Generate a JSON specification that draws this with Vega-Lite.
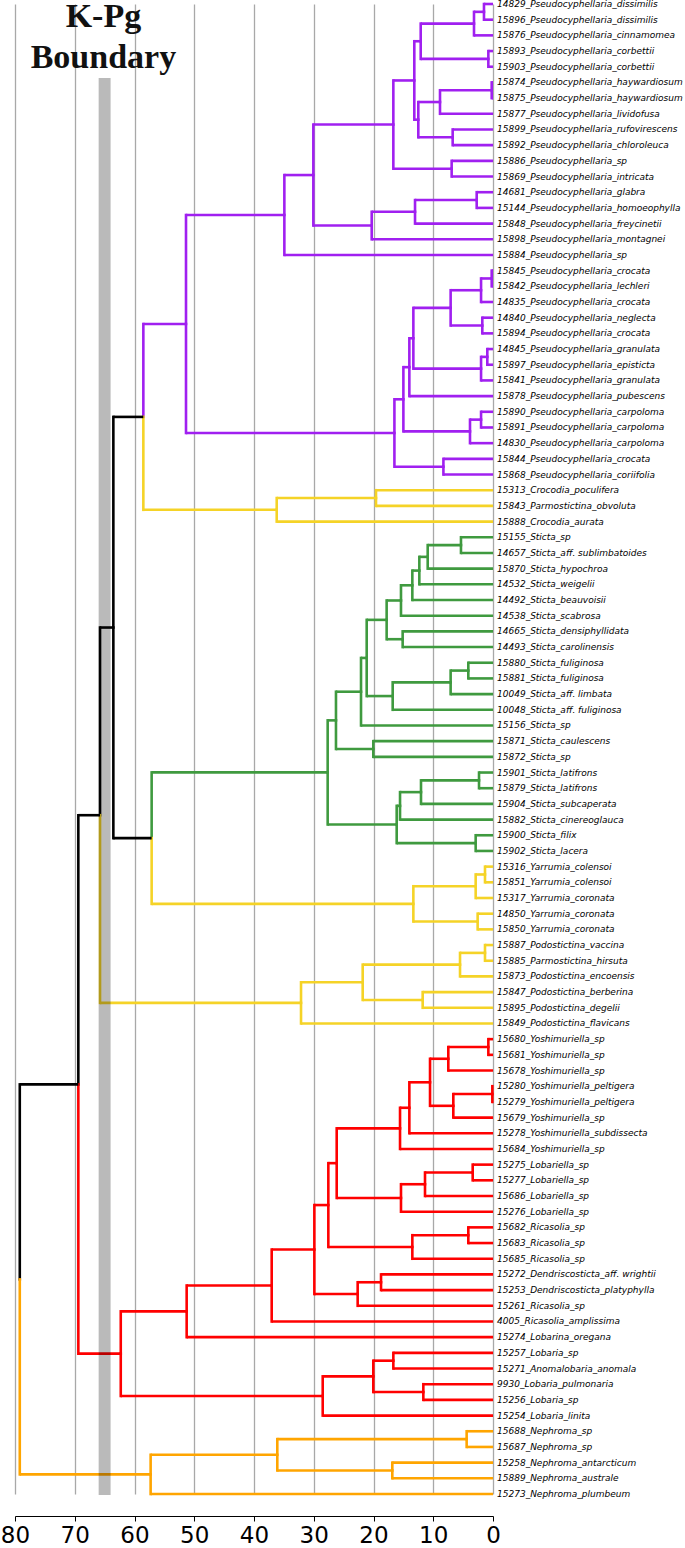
{
  "$schema": "https://vega.github.io/schema/vega-lite/v6.json",
  "width": 478,
  "height": 1490,
  "autosize": {"type": "none"},
  "padding": {"left": 15, "top": 4, "right": 192, "bottom": 54},
  "background": "white",
  "config": {"view": {"stroke": null}},
  "datasets": {
    "edges": [
      {"pa":1.51,"py":1.5,"ca":0,"cy":1,"c":"P"},{"pa":1.51,"py":1.5,"ca":0,"cy":2,"c":"P"},
      {"pa":3.18,"py":2.25,"ca":1.51,"cy":1.5,"c":"P"},{"pa":3.18,"py":2.25,"ca":0,"cy":3,"c":"P"},
      {"pa":0.78,"py":4.5,"ca":0,"cy":4,"c":"P"},{"pa":0.78,"py":4.5,"ca":0,"cy":5,"c":"P"},
      {"pa":12.1,"py":3.375,"ca":3.18,"cy":2.25,"c":"P"},{"pa":12.1,"py":3.375,"ca":0.78,"cy":4.5,"c":"P"},
      {"pa":0.22,"py":6.5,"ca":0,"cy":6,"c":"P"},{"pa":0.22,"py":6.5,"ca":0,"cy":7,"c":"P"},
      {"pa":8.87,"py":7.25,"ca":0.22,"cy":6.5,"c":"P"},{"pa":8.87,"py":7.25,"ca":0,"cy":8,"c":"P"},
      {"pa":6.75,"py":9.5,"ca":0,"cy":9,"c":"P"},{"pa":6.75,"py":9.5,"ca":0,"cy":10,"c":"P"},
      {"pa":12.5,"py":8.375,"ca":8.87,"cy":7.25,"c":"P"},{"pa":12.5,"py":8.375,"ca":6.75,"cy":9.5,"c":"P"},
      {"pa":13.17,"py":5.875,"ca":12.1,"cy":3.375,"c":"P"},{"pa":13.17,"py":5.875,"ca":12.5,"cy":8.375,"c":"P"},
      {"pa":6.92,"py":11.5,"ca":0,"cy":11,"c":"P"},{"pa":6.92,"py":11.5,"ca":0,"cy":12,"c":"P"},
      {"pa":16.68,"py":8.6875,"ca":13.17,"cy":5.875,"c":"P"},{"pa":16.68,"py":8.6875,"ca":6.92,"cy":11.5,"c":"P"},
      {"pa":2.73,"py":13.5,"ca":0,"cy":13,"c":"P"},{"pa":2.73,"py":13.5,"ca":0,"cy":14,"c":"P"},
      {"pa":13.05,"py":14.25,"ca":2.73,"cy":13.5,"c":"P"},{"pa":13.05,"py":14.25,"ca":0,"cy":15,"c":"P"},
      {"pa":20.3,"py":15.125,"ca":13.05,"cy":14.25,"c":"P"},{"pa":20.3,"py":15.125,"ca":0,"cy":16,"c":"P"},
      {"pa":30.07,"py":11.906,"ca":16.68,"cy":8.6875,"c":"P"},{"pa":30.07,"py":11.906,"ca":20.3,"cy":15.125,"c":"P"},
      {"pa":34.92,"py":14.453,"ca":30.07,"cy":11.906,"c":"P"},{"pa":34.92,"py":14.453,"ca":0,"cy":17,"c":"P"},
      {"pa":0.22,"py":18.5,"ca":0,"cy":18,"c":"P"},{"pa":0.22,"py":18.5,"ca":0,"cy":19,"c":"P"},
      {"pa":2.0,"py":19.25,"ca":0.22,"cy":18.5,"c":"P"},{"pa":2.0,"py":19.25,"ca":0,"cy":20,"c":"P"},
      {"pa":1.79,"py":21.5,"ca":0,"cy":21,"c":"P"},{"pa":1.79,"py":21.5,"ca":0,"cy":22,"c":"P"},
      {"pa":7.09,"py":20.375,"ca":2.0,"cy":19.25,"c":"P"},{"pa":7.09,"py":20.375,"ca":1.79,"cy":21.5,"c":"P"},
      {"pa":0.95,"py":23.5,"ca":0,"cy":23,"c":"P"},{"pa":0.95,"py":23.5,"ca":0,"cy":24,"c":"P"},
      {"pa":2.0,"py":24.25,"ca":0.95,"cy":23.5,"c":"P"},{"pa":2.0,"py":24.25,"ca":0,"cy":25,"c":"P"},
      {"pa":13.33,"py":22.3125,"ca":7.09,"cy":20.375,"c":"P"},{"pa":13.33,"py":22.3125,"ca":2.0,"cy":24.25,"c":"P"},
      {"pa":14.0,"py":24.156,"ca":13.33,"cy":22.3125,"c":"P"},{"pa":14.0,"py":24.156,"ca":0,"cy":26,"c":"P"},
      {"pa":2.0,"py":27.5,"ca":0,"cy":27,"c":"P"},{"pa":2.0,"py":27.5,"ca":0,"cy":28,"c":"P"},
      {"pa":3.85,"py":28.25,"ca":2.0,"cy":27.5,"c":"P"},{"pa":3.85,"py":28.25,"ca":0,"cy":29,"c":"P"},
      {"pa":15.0,"py":26.203,"ca":14.0,"cy":24.156,"c":"P"},{"pa":15.0,"py":26.203,"ca":3.85,"cy":28.25,"c":"P"},
      {"pa":8.3,"py":30.5,"ca":0,"cy":30,"c":"P"},{"pa":8.3,"py":30.5,"ca":0,"cy":31,"c":"P"},
      {"pa":16.5,"py":28.352,"ca":15.0,"cy":26.203,"c":"P"},{"pa":16.5,"py":28.352,"ca":8.3,"cy":30.5,"c":"P"},
      {"pa":51.38,"py":21.402,"ca":34.92,"cy":14.453,"c":"P"},{"pa":51.38,"py":21.402,"ca":16.5,"cy":28.352,"c":"P"},
      {"pa":19.58,"py":32.5,"ca":0,"cy":32,"c":"Y"},{"pa":19.58,"py":32.5,"ca":0,"cy":33,"c":"Y"},
      {"pa":36.2,"py":33.25,"ca":19.58,"cy":32.5,"c":"Y"},{"pa":36.2,"py":33.25,"ca":0,"cy":34,"c":"Y"},
      {"pa":58.52,"py":27.326,"ca":51.38,"cy":21.402,"c":"P"},{"pa":58.52,"py":27.326,"ca":36.2,"cy":33.25,"c":"Y"},
      {"pa":5.36,"py":35.5,"ca":0,"cy":35,"c":"G"},{"pa":5.36,"py":35.5,"ca":0,"cy":36,"c":"G"},
      {"pa":10.93,"py":36.25,"ca":5.36,"cy":35.5,"c":"G"},{"pa":10.93,"py":36.25,"ca":0,"cy":37,"c":"G"},
      {"pa":12.33,"py":37.125,"ca":10.93,"cy":36.25,"c":"G"},{"pa":12.33,"py":37.125,"ca":0,"cy":38,"c":"G"},
      {"pa":13.5,"py":38.0625,"ca":12.33,"cy":37.125,"c":"G"},{"pa":13.5,"py":38.0625,"ca":0,"cy":39,"c":"G"},
      {"pa":15.4,"py":39.031,"ca":13.5,"cy":38.0625,"c":"G"},{"pa":15.4,"py":39.031,"ca":0,"cy":40,"c":"G"},
      {"pa":15.12,"py":41.5,"ca":0,"cy":41,"c":"G"},{"pa":15.12,"py":41.5,"ca":0,"cy":42,"c":"G"},
      {"pa":17.8,"py":40.266,"ca":15.4,"cy":39.031,"c":"G"},{"pa":17.8,"py":40.266,"ca":15.12,"cy":41.5,"c":"G"},
      {"pa":4.13,"py":43.5,"ca":0,"cy":43,"c":"G"},{"pa":4.13,"py":43.5,"ca":0,"cy":44,"c":"G"},
      {"pa":7.09,"py":44.25,"ca":4.13,"cy":43.5,"c":"G"},{"pa":7.09,"py":44.25,"ca":0,"cy":45,"c":"G"},
      {"pa":16.79,"py":45.125,"ca":7.09,"cy":44.25,"c":"G"},{"pa":16.79,"py":45.125,"ca":0,"cy":46,"c":"G"},
      {"pa":21.14,"py":42.695,"ca":17.8,"cy":40.266,"c":"G"},{"pa":21.14,"py":42.695,"ca":16.79,"cy":45.125,"c":"G"},
      {"pa":22.09,"py":44.848,"ca":21.14,"cy":42.695,"c":"G"},{"pa":22.09,"py":44.848,"ca":0,"cy":47,"c":"G"},
      {"pa":20.03,"py":48.5,"ca":0,"cy":48,"c":"G"},{"pa":20.03,"py":48.5,"ca":0,"cy":49,"c":"G"},
      {"pa":26.28,"py":46.674,"ca":22.09,"cy":44.848,"c":"G"},{"pa":26.28,"py":46.674,"ca":20.03,"cy":48.5,"c":"G"},
      {"pa":2.34,"py":50.5,"ca":0,"cy":50,"c":"G"},{"pa":2.34,"py":50.5,"ca":0,"cy":51,"c":"G"},
      {"pa":12.05,"py":51.25,"ca":2.34,"cy":50.5,"c":"G"},{"pa":12.05,"py":51.25,"ca":0,"cy":52,"c":"G"},
      {"pa":15.56,"py":52.125,"ca":12.05,"cy":51.25,"c":"G"},{"pa":15.56,"py":52.125,"ca":0,"cy":53,"c":"G"},
      {"pa":2.9,"py":54.5,"ca":0,"cy":54,"c":"G"},{"pa":2.9,"py":54.5,"ca":0,"cy":55,"c":"G"},
      {"pa":16.12,"py":53.3125,"ca":15.56,"cy":52.125,"c":"G"},{"pa":16.12,"py":53.3125,"ca":2.9,"cy":54.5,"c":"G"},
      {"pa":27.67,"py":49.993,"ca":26.28,"cy":46.674,"c":"G"},{"pa":27.67,"py":49.993,"ca":16.12,"cy":53.3125,"c":"G"},
      {"pa":1.34,"py":56.5,"ca":0,"cy":56,"c":"Y"},{"pa":1.34,"py":56.5,"ca":0,"cy":57,"c":"Y"},
      {"pa":2.9,"py":57.25,"ca":1.34,"cy":56.5,"c":"Y"},{"pa":2.9,"py":57.25,"ca":0,"cy":58,"c":"Y"},
      {"pa":2.57,"py":59.5,"ca":0,"cy":59,"c":"Y"},{"pa":2.57,"py":59.5,"ca":0,"cy":60,"c":"Y"},
      {"pa":13.33,"py":58.375,"ca":2.9,"cy":57.25,"c":"Y"},{"pa":13.33,"py":58.375,"ca":2.57,"cy":59.5,"c":"Y"},
      {"pa":57.13,"py":54.184,"ca":27.67,"cy":49.993,"c":"G"},{"pa":57.13,"py":54.184,"ca":13.33,"cy":58.375,"c":"Y"},
      {"pa":63.54,"py":40.755,"ca":58.52,"cy":27.326,"c":"K"},{"pa":63.54,"py":40.755,"ca":57.13,"cy":54.184,"c":"K"},
      {"pa":1.34,"py":61.5,"ca":0,"cy":61,"c":"Y"},{"pa":1.34,"py":61.5,"ca":0,"cy":62,"c":"Y"},
      {"pa":5.52,"py":62.25,"ca":1.34,"cy":61.5,"c":"Y"},{"pa":5.52,"py":62.25,"ca":0,"cy":63,"c":"Y"},
      {"pa":11.77,"py":64.5,"ca":0,"cy":64,"c":"Y"},{"pa":11.77,"py":64.5,"ca":0,"cy":65,"c":"Y"},
      {"pa":21.81,"py":63.375,"ca":5.52,"cy":62.25,"c":"Y"},{"pa":21.81,"py":63.375,"ca":11.77,"cy":64.5,"c":"Y"},
      {"pa":32.13,"py":64.6875,"ca":21.81,"cy":63.375,"c":"Y"},{"pa":32.13,"py":64.6875,"ca":0,"cy":66,"c":"Y"},
      {"pa":65.77,"py":52.721,"ca":63.54,"cy":40.755,"c":"K"},{"pa":65.77,"py":52.721,"ca":32.13,"cy":64.6875,"c":"Y"},
      {"pa":0.78,"py":67.5,"ca":0,"cy":67,"c":"R"},{"pa":0.78,"py":67.5,"ca":0,"cy":68,"c":"R"},
      {"pa":7.48,"py":68.25,"ca":0.78,"cy":67.5,"c":"R"},{"pa":7.48,"py":68.25,"ca":0,"cy":69,"c":"R"},
      {"pa":0.11,"py":70.5,"ca":0,"cy":70,"c":"R"},{"pa":0.11,"py":70.5,"ca":0,"cy":71,"c":"R"},
      {"pa":6.64,"py":71.25,"ca":0.11,"cy":70.5,"c":"R"},{"pa":6.64,"py":71.25,"ca":0,"cy":72,"c":"R"},
      {"pa":10.54,"py":69.75,"ca":7.48,"cy":68.25,"c":"R"},{"pa":10.54,"py":69.75,"ca":6.64,"cy":71.25,"c":"R"},
      {"pa":14.0,"py":71.375,"ca":10.54,"cy":69.75,"c":"R"},{"pa":14.0,"py":71.375,"ca":0,"cy":73,"c":"R"},
      {"pa":15.56,"py":72.6875,"ca":14.0,"cy":71.375,"c":"R"},{"pa":15.56,"py":72.6875,"ca":0,"cy":74,"c":"R"},
      {"pa":3.4,"py":75.5,"ca":0,"cy":75,"c":"R"},{"pa":3.4,"py":75.5,"ca":0,"cy":76,"c":"R"},
      {"pa":11.38,"py":76.25,"ca":3.4,"cy":75.5,"c":"R"},{"pa":11.38,"py":76.25,"ca":0,"cy":77,"c":"R"},
      {"pa":15.4,"py":77.125,"ca":11.38,"cy":76.25,"c":"R"},{"pa":15.4,"py":77.125,"ca":0,"cy":78,"c":"R"},
      {"pa":26.16,"py":74.906,"ca":15.56,"cy":72.6875,"c":"R"},{"pa":26.16,"py":74.906,"ca":15.4,"cy":77.125,"c":"R"},
      {"pa":4.13,"py":79.5,"ca":0,"cy":79,"c":"R"},{"pa":4.13,"py":79.5,"ca":0,"cy":80,"c":"R"},
      {"pa":13.5,"py":80.25,"ca":4.13,"cy":79.5,"c":"R"},{"pa":13.5,"py":80.25,"ca":0,"cy":81,"c":"R"},
      {"pa":27.56,"py":77.578,"ca":26.16,"cy":74.906,"c":"R"},{"pa":27.56,"py":77.578,"ca":13.5,"cy":80.25,"c":"R"},
      {"pa":18.74,"py":82.5,"ca":0,"cy":82,"c":"R"},{"pa":18.74,"py":82.5,"ca":0,"cy":83,"c":"R"},
      {"pa":22.65,"py":83.25,"ca":18.74,"cy":82.5,"c":"R"},{"pa":22.65,"py":83.25,"ca":0,"cy":84,"c":"R"},
      {"pa":29.9,"py":80.414,"ca":27.56,"cy":77.578,"c":"R"},{"pa":29.9,"py":80.414,"ca":22.65,"cy":83.25,"c":"R"},
      {"pa":37.04,"py":82.707,"ca":29.9,"cy":80.414,"c":"R"},{"pa":37.04,"py":82.707,"ca":0,"cy":85,"c":"R"},
      {"pa":51.27,"py":84.354,"ca":37.04,"cy":82.707,"c":"R"},{"pa":51.27,"py":84.354,"ca":0,"cy":86,"c":"R"},
      {"pa":16.68,"py":87.5,"ca":0,"cy":87,"c":"R"},{"pa":16.68,"py":87.5,"ca":0,"cy":88,"c":"R"},
      {"pa":11.66,"py":89.5,"ca":0,"cy":89,"c":"R"},{"pa":11.66,"py":89.5,"ca":0,"cy":90,"c":"R"},
      {"pa":20.03,"py":88.5,"ca":16.68,"cy":87.5,"c":"R"},{"pa":20.03,"py":88.5,"ca":11.66,"cy":89.5,"c":"R"},
      {"pa":28.5,"py":89.75,"ca":20.03,"cy":88.5,"c":"R"},{"pa":28.5,"py":89.75,"ca":0,"cy":91,"c":"R"},
      {"pa":62.3,"py":87.052,"ca":51.27,"cy":84.354,"c":"R"},{"pa":62.3,"py":87.052,"ca":28.5,"cy":89.75,"c":"R"},
      {"pa":69.4,"py":69.886,"ca":65.77,"cy":52.721,"c":"K"},{"pa":69.4,"py":69.886,"ca":62.3,"cy":87.052,"c":"R"},
      {"pa":4.41,"py":92.5,"ca":0,"cy":92,"c":"O"},{"pa":4.41,"py":92.5,"ca":0,"cy":93,"c":"O"},
      {"pa":16.85,"py":94.5,"ca":0,"cy":94,"c":"O"},{"pa":16.85,"py":94.5,"ca":0,"cy":95,"c":"O"},
      {"pa":36.1,"py":93.5,"ca":4.41,"cy":92.5,"c":"O"},{"pa":36.1,"py":93.5,"ca":16.85,"cy":94.5,"c":"O"},
      {"pa":57.3,"py":94.75,"ca":36.1,"cy":93.5,"c":"O"},{"pa":57.3,"py":94.75,"ca":0,"cy":96,"c":"O"},
      {"pa":79.2,"py":82.318,"ca":69.4,"cy":69.886,"c":"K"},{"pa":79.2,"py":82.318,"ca":57.3,"cy":94.75,"c":"O"}
    ],
    "tips": [
      {"i":1,"n":"14829_Pseudocyphellaria_dissimilis"},
      {"i":2,"n":"15896_Pseudocyphellaria_dissimilis"},
      {"i":3,"n":"15876_Pseudocyphellaria_cinnamomea"},
      {"i":4,"n":"15893_Pseudocyphellaria_corbettii"},
      {"i":5,"n":"15903_Pseudocyphellaria_corbettii"},
      {"i":6,"n":"15874_Pseudocyphellaria_haywardiosum"},
      {"i":7,"n":"15875_Pseudocyphellaria_haywardiosum"},
      {"i":8,"n":"15877_Pseudocyphellaria_lividofusa"},
      {"i":9,"n":"15899_Pseudocyphellaria_rufovirescens"},
      {"i":10,"n":"15892_Pseudocyphellaria_chloroleuca"},
      {"i":11,"n":"15886_Pseudocyphellaria_sp"},
      {"i":12,"n":"15869_Pseudocyphellaria_intricata"},
      {"i":13,"n":"14681_Pseudocyphellaria_glabra"},
      {"i":14,"n":"15144_Pseudocyphellaria_homoeophylla"},
      {"i":15,"n":"15848_Pseudocyphellaria_freycinetii"},
      {"i":16,"n":"15898_Pseudocyphellaria_montagnei"},
      {"i":17,"n":"15884_Pseudocyphellaria_sp"},
      {"i":18,"n":"15845_Pseudocyphellaria_crocata"},
      {"i":19,"n":"15842_Pseudocyphellaria_lechleri"},
      {"i":20,"n":"14835_Pseudocyphellaria_crocata"},
      {"i":21,"n":"14840_Pseudocyphellaria_neglecta"},
      {"i":22,"n":"15894_Pseudocyphellaria_crocata"},
      {"i":23,"n":"14845_Pseudocyphellaria_granulata"},
      {"i":24,"n":"15897_Pseudocyphellaria_episticta"},
      {"i":25,"n":"15841_Pseudocyphellaria_granulata"},
      {"i":26,"n":"15878_Pseudocyphellaria_pubescens"},
      {"i":27,"n":"15890_Pseudocyphellaria_carpoloma"},
      {"i":28,"n":"15891_Pseudocyphellaria_carpoloma"},
      {"i":29,"n":"14830_Pseudocyphellaria_carpoloma"},
      {"i":30,"n":"15844_Pseudocyphellaria_crocata"},
      {"i":31,"n":"15868_Pseudocyphellaria_coriifolia"},
      {"i":32,"n":"15313_Crocodia_poculifera"},
      {"i":33,"n":"15843_Parmostictina_obvoluta"},
      {"i":34,"n":"15888_Crocodia_aurata"},
      {"i":35,"n":"15155_Sticta_sp"},
      {"i":36,"n":"14657_Sticta_aff. sublimbatoides"},
      {"i":37,"n":"15870_Sticta_hypochroa"},
      {"i":38,"n":"14532_Sticta_weigelii"},
      {"i":39,"n":"14492_Sticta_beauvoisii"},
      {"i":40,"n":"14538_Sticta_scabrosa"},
      {"i":41,"n":"14665_Sticta_densiphyllidata"},
      {"i":42,"n":"14493_Sticta_carolinensis"},
      {"i":43,"n":"15880_Sticta_fuliginosa"},
      {"i":44,"n":"15881_Sticta_fuliginosa"},
      {"i":45,"n":"10049_Sticta_aff. limbata"},
      {"i":46,"n":"10048_Sticta_aff. fuliginosa"},
      {"i":47,"n":"15156_Sticta_sp"},
      {"i":48,"n":"15871_Sticta_caulescens"},
      {"i":49,"n":"15872_Sticta_sp"},
      {"i":50,"n":"15901_Sticta_latifrons"},
      {"i":51,"n":"15879_Sticta_latifrons"},
      {"i":52,"n":"15904_Sticta_subcaperata"},
      {"i":53,"n":"15882_Sticta_cinereoglauca"},
      {"i":54,"n":"15900_Sticta_filix"},
      {"i":55,"n":"15902_Sticta_lacera"},
      {"i":56,"n":"15316_Yarrumia_colensoi"},
      {"i":57,"n":"15851_Yarrumia_colensoi"},
      {"i":58,"n":"15317_Yarrumia_coronata"},
      {"i":59,"n":"14850_Yarrumia_coronata"},
      {"i":60,"n":"15850_Yarrumia_coronata"},
      {"i":61,"n":"15887_Podostictina_vaccina"},
      {"i":62,"n":"15885_Parmostictina_hirsuta"},
      {"i":63,"n":"15873_Podostictina_encoensis"},
      {"i":64,"n":"15847_Podostictina_berberina"},
      {"i":65,"n":"15895_Podostictina_degelii"},
      {"i":66,"n":"15849_Podostictina_flavicans"},
      {"i":67,"n":"15680_Yoshimuriella_sp"},
      {"i":68,"n":"15681_Yoshimuriella_sp"},
      {"i":69,"n":"15678_Yoshimuriella_sp"},
      {"i":70,"n":"15280_Yoshimuriella_peltigera"},
      {"i":71,"n":"15279_Yoshimuriella_peltigera"},
      {"i":72,"n":"15679_Yoshimuriella_sp"},
      {"i":73,"n":"15278_Yoshimuriella_subdissecta"},
      {"i":74,"n":"15684_Yoshimuriella_sp"},
      {"i":75,"n":"15275_Lobariella_sp"},
      {"i":76,"n":"15277_Lobariella_sp"},
      {"i":77,"n":"15686_Lobariella_sp"},
      {"i":78,"n":"15276_Lobariella_sp"},
      {"i":79,"n":"15682_Ricasolia_sp"},
      {"i":80,"n":"15683_Ricasolia_sp"},
      {"i":81,"n":"15685_Ricasolia_sp"},
      {"i":82,"n":"15272_Dendriscosticta_aff. wrightii"},
      {"i":83,"n":"15253_Dendriscosticta_platyphylla"},
      {"i":84,"n":"15261_Ricasolia_sp"},
      {"i":85,"n":"4005_Ricasolia_amplissima"},
      {"i":86,"n":"15274_Lobarina_oregana"},
      {"i":87,"n":"15257_Lobaria_sp"},
      {"i":88,"n":"15271_Anomalobaria_anomala"},
      {"i":89,"n":"9930_Lobaria_pulmonaria"},
      {"i":90,"n":"15256_Lobaria_sp"},
      {"i":91,"n":"15254_Lobaria_linita"},
      {"i":92,"n":"15688_Nephroma_sp"},
      {"i":93,"n":"15687_Nephroma_sp"},
      {"i":94,"n":"15258_Nephroma_antarcticum"},
      {"i":95,"n":"15889_Nephroma_australe"},
      {"i":96,"n":"15273_Nephroma_plumbeum"}
    ],
    "band": [{"start": 66, "end": 64}],
    "titles": [
      {"t": "K-Pg", "age": 65.2, "pos": 2.45},
      {"t": "Boundary", "age": 65.2, "pos": 5.1}
    ]
  },
  "layer": [
    {
      "data": {"name": "edges"},
      "mark": {"type": "rule", "strokeWidth": 2.6, "strokeCap": "square"},
      "encoding": {
        "x": {"field": "pa", "type": "quantitative",
          "scale": {"domain": [0, 80], "reverse": true, "nice": false, "zero": false},
          "axis": {
            "orient": "bottom", "offset": 22, "title": null,
            "values": [0,5,10,15,20,25,30,35,40,45,50,55,60,65,70,75,80],
            "labelExpr": "datum.value % 10 === 0 ? datum.label : ''",
            "labelFont": "DejaVu Sans", "labelFontSize": 23, "labelColor": "#000",
            "labelPadding": 3, "labelFlush": false, "labelOverlap": false,
            "tickColor": "#000", "tickSize": 5, "tickWidth": 1,
            "domainColor": "#000", "domainWidth": 1,
            "grid": true,
            "gridColor": {"condition": {"test": "datum.value % 10 === 0 || datum.value === 65", "value": "#a8a8a8"}, "value": "#dcdcdc"},
            "gridWidth": 1.3
          }},
        "y": {"field": "py", "type": "quantitative",
          "scale": {"domain": [1, 96], "reverse": true, "nice": false, "zero": false},
          "axis": null},
        "y2": {"field": "cy"},
        "color": {"field": "c", "type": "nominal", "legend": null,
          "scale": {"domain": ["P","Y","G","R","O","K"],
                    "range": ["#a020f0","#f5d327","#3f9a3f","#ff0000","#ffa500","#000000"]}}
      }
    },
    {
      "data": {"name": "edges"},
      "mark": {"type": "rule", "strokeWidth": 2.6, "strokeCap": "butt"},
      "encoding": {
        "x": {"field": "pa", "type": "quantitative"},
        "x2": {"field": "ca"},
        "y": {"field": "cy", "type": "quantitative"},
        "color": {"field": "c", "type": "nominal", "legend": null}
      }
    },
    {
      "data": {"name": "band"},
      "mark": {"type": "rect", "color": "#000", "opacity": 0.27},
      "encoding": {
        "x": {"field": "start", "type": "quantitative"},
        "x2": {"field": "end"},
        "y": {"datum": 5.72},
        "y2": {"datum": 96.06}
      }
    },
    {
      "data": {"name": "tips"},
      "mark": {"type": "text", "align": "left", "baseline": "middle", "dx": 4,
               "font": "DejaVu Sans", "fontStyle": "italic", "fontSize": 9, "color": "#000"},
      "encoding": {
        "x": {"datum": 0},
        "y": {"field": "i", "type": "quantitative"},
        "text": {"field": "n"}
      }
    },
    {
      "data": {"name": "titles"},
      "mark": {"type": "text", "align": "center", "baseline": "alphabetic",
               "font": "Liberation Serif", "fontWeight": "bold", "fontSize": 34, "color": "#111"},
      "encoding": {
        "x": {"field": "age", "type": "quantitative"},
        "y": {"field": "pos", "type": "quantitative"},
        "text": {"field": "t"}
      }
    }
  ]
}
